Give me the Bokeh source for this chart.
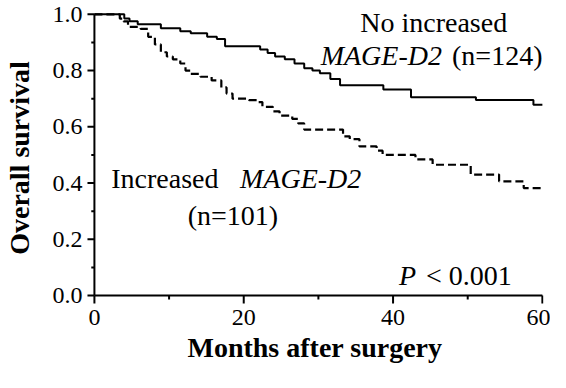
from bokeh.plotting import figure
from bokeh.models import Range1d, FixedTicker, Label
from bokeh.embed import file_html
from bokeh.resources import INLINE

# ---- data ----
solid_t = [0, 4.0, 4.7, 5.8, 8.9, 11.5, 12.9, 15.1, 16.4, 17.5, 22.2, 23.2, 24.2,
           25.5, 26.8, 28.1, 29.2, 30.2, 31.6, 32.9, 38.7, 42.4, 51.1, 58.8, 60]
solid_s = [1.0, 0.985, 0.975, 0.965, 0.950, 0.940, 0.933, 0.920, 0.912, 0.886,
           0.875, 0.862, 0.850, 0.840, 0.825, 0.808, 0.800, 0.790, 0.770, 0.748,
           0.733, 0.705, 0.695, 0.678, 0.678]
dashed_t = [0, 3.4, 3.9, 4.5, 6.2, 7.2, 8.1, 8.9, 9.7, 10.5, 11.5, 12.2, 12.9,
            14.2, 15.7, 17.0, 17.7, 18.5, 20.7, 21.8, 22.5, 23.9, 24.8, 26.5,
            27.3, 28.1, 33.3, 34.2, 35.5, 37.8, 38.6, 43.0, 45.3, 50.4, 54.2,
            57.5, 60]
dashed_s = [1.0, 0.985, 0.975, 0.955, 0.948, 0.920, 0.893, 0.865, 0.850, 0.840,
            0.825, 0.800, 0.788, 0.778, 0.765, 0.740, 0.718, 0.700, 0.695, 0.688,
            0.671, 0.655, 0.640, 0.628, 0.612, 0.590, 0.566, 0.556, 0.530, 0.515,
            0.500, 0.484, 0.465, 0.430, 0.406, 0.382, 0.382]

x_ticks = [0, 20, 40, 60]
x_minor = [10, 30, 50]
y_ticks = [0.0, 0.2, 0.4, 0.6, 0.8, 1.0]
y_minor = [0.1, 0.3, 0.5, 0.7, 0.9]
y_tick_labels = ["0.0", "0.2", "0.4", "0.6", "0.8", "1.0"]

FONT = "Liberation Serif"

# axis extents and tick lengths (in data units of the scales below)
X0, X1 = 0, 60
Y0, Y1 = 0.0, 1.0
TX_MAJ, TX_MIN = 0.028, 0.014     # x-axis tick lengths (survival units)
TY_MAJ, TY_MIN = 0.93, 0.42       # y-axis tick lengths (months)

p = figure(width=550, height=372, output_backend="svg", toolbar_location=None,
           x_range=Range1d(-1.06, 60.15), y_range=Range1d(-0.032, 1.01),
           min_border_left=82, min_border_right=7, min_border_top=11,
           min_border_bottom=68)
p.outline_line_color = None
p.grid.visible = False

# survival curves
p.step(solid_t, solid_s, mode="after", line_color="black", line_width=2)
p.step(dashed_t, dashed_s, mode="after", line_color="black", line_width=2.2,
       line_dash="8 4")

# axis lines and tick marks drawn through the scales
p.segment(x0=[X0, X0], y0=[Y0, Y0], x1=[X1, X0], y1=[Y0, Y1],
          line_color="black", line_width=2)
p.segment(x0=x_ticks, y0=[Y0] * len(x_ticks), x1=x_ticks,
          y1=[Y0 - TX_MAJ] * len(x_ticks), line_color="black", line_width=2)
p.segment(x0=x_minor, y0=[Y0] * len(x_minor), x1=x_minor,
          y1=[Y0 - TX_MIN] * len(x_minor), line_color="black", line_width=2)
p.segment(x0=[X0] * len(y_ticks), y0=y_ticks, x1=[X0 - TY_MAJ] * len(y_ticks),
          y1=y_ticks, line_color="black", line_width=2)
p.segment(x0=[X0] * len(y_minor), y0=y_minor, x1=[X0 - TY_MIN] * len(y_minor),
          y1=y_minor, line_color="black", line_width=2)

# Bokeh axes carry the tick labels and titles
p.xaxis.ticker = FixedTicker(ticks=x_ticks, minor_ticks=x_minor)
p.yaxis.ticker = FixedTicker(ticks=y_ticks, minor_ticks=y_minor)
p.yaxis.major_label_overrides = {t: s for t, s in zip(y_ticks, y_tick_labels)}

p.axis.axis_line_color = None
p.axis.major_tick_line_color = None
p.axis.minor_tick_line_color = None
p.axis.major_tick_in = 0
p.axis.major_tick_out = 0
p.axis.minor_tick_in = 0
p.axis.minor_tick_out = 0
p.axis.major_label_text_font = FONT
p.axis.major_label_text_font_size = "24px"
p.axis.major_label_text_color = "black"
p.axis.axis_label_text_font = FONT
p.axis.axis_label_text_font_size = "28px"
p.axis.axis_label_text_font_style = "bold"
p.axis.axis_label_text_color = "black"

p.xaxis.major_label_standoff = 5
p.yaxis.major_label_standoff = 4
p.xaxis.axis_label = "Months after surgery"
p.yaxis.axis_label = "Overall survival"
p.xaxis.axis_label_standoff = 4
p.yaxis.axis_label_standoff = 15


def lab(x, y, text, italic=False):
    p.add_layout(Label(x=x, y=y, text=text, text_font=FONT,
                       text_font_size="28px",
                       text_font_style="italic" if italic else "normal",
                       text_color="black", text_align="left",
                       text_baseline="alphabetic"))


lab(35.6, 0.971, "No increased")
lab(30.3, 0.852, "MAGE-D2", italic=True)
lab(47.9, 0.852, "(n=124)")
lab(2.25, 0.416, "Increased")
lab(19.5, 0.416, "MAGE-D2", italic=True)
lab(12.5, 0.283, "(n=101)")
lab(40.8, 0.072, "P", italic=True)
lab(44.4, 0.072, "< 0.001")

open("out.html", "w").write(file_html(p, INLINE))
